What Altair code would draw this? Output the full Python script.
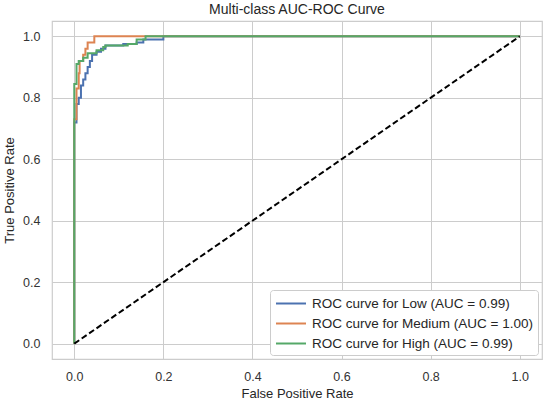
import altair as alt
import pandas as pd

labels = ["ROC curve for Low (AUC = 0.99)",
          "ROC curve for Medium (AUC = 1.00)",
          "ROC curve for High (AUC = 0.99)"]
colors = ["#4c72b0", "#dd8452", "#55a868"]

low_fpr = [0, 0, 0.005, 0.005, 0.01, 0.01, 0.015, 0.015, 0.02, 0.02, 0.025, 0.025, 0.03, 0.03,
           0.035, 0.035, 0.04, 0.04, 0.05, 0.05, 0.06, 0.06, 0.07, 0.07, 0.11, 0.11, 0.14, 0.14,
           0.155, 0.155, 0.2, 0.2, 1.0]
low_tpr = [0, 0.72, 0.72, 0.78, 0.78, 0.80, 0.80, 0.84, 0.84, 0.86, 0.86, 0.88, 0.88, 0.90,
           0.90, 0.92, 0.92, 0.94, 0.94, 0.95, 0.95, 0.96, 0.96, 0.97, 0.97, 0.975, 0.975, 0.98,
           0.98, 0.99, 0.99, 1.0, 1.0]

med_fpr = [0, 0, 0.005, 0.005, 0.01, 0.01, 0.012, 0.012, 0.02, 0.02, 0.025, 0.025, 0.03, 0.03,
           0.045, 0.045, 1.0]
med_tpr = [0, 0.73, 0.73, 0.83, 0.83, 0.88, 0.88, 0.92, 0.92, 0.94, 0.94, 0.96, 0.96, 0.98,
           0.98, 1.0, 1.0]

high_fpr = [0, 0, 0.005, 0.005, 0.01, 0.01, 0.02, 0.02, 0.03, 0.03, 0.05, 0.05, 0.065, 0.065,
            0.07, 0.07, 0.12, 0.12, 0.14, 0.14, 0.16, 0.16, 1.0]
high_tpr = [0, 0.845, 0.845, 0.91, 0.91, 0.92, 0.92, 0.93, 0.93, 0.945, 0.945, 0.955, 0.955, 0.965,
            0.965, 0.97, 0.97, 0.975, 0.975, 0.99, 0.99, 1.0, 1.0]

diag_x = [0.0, 1.0]
diag_y = [0.0, 1.0]
ticks = [0.0, 0.2, 0.4, 0.6, 0.8, 1.0]

rows = []
for lab, fx, ty in zip(labels, [low_fpr, med_fpr, high_fpr], [low_tpr, med_tpr, high_tpr]):
    for i, (a, b) in enumerate(zip(fx, ty)):
        rows.append({"series": lab, "fpr": a, "tpr": b, "idx": i})
df = pd.DataFrame(rows)
diag = pd.DataFrame({"fpr": diag_x, "tpr": diag_y})

xs = alt.Scale(domain=[-0.05, 1.05], nice=False, zero=False)
ys = alt.Scale(domain=[-0.05, 1.05], nice=False, zero=False)

xax = alt.Axis(values=ticks, format=".1f", title="False Positive Rate", labelPadding=11)
yax = alt.Axis(values=ticks, format=".1f", title="True Positive Rate", labelPadding=12,
               titlePadding=6)

lines = alt.Chart(df).mark_line(strokeWidth=2).encode(
    x=alt.X("fpr:Q", scale=xs, axis=xax),
    y=alt.Y("tpr:Q", scale=ys, axis=yax),
    color=alt.Color("series:N", scale=alt.Scale(domain=labels, range=colors),
                    legend=alt.Legend(title=None, orient="bottom-right", offset=4,
                                      symbolType="M-1,0H3", symbolSize=225, symbolStrokeWidth=2,
                                      labelFontSize=13.5, labelColor="#262626",
                                      labelOffset=20,
                                      fillColor="white", strokeColor="#cccccc",
                                      cornerRadius=3, padding=5, rowPadding=5,
                                      labelLimit=400)),
    order="idx:Q",
)

dline = alt.Chart(diag).mark_line(color="black", strokeWidth=2, strokeDash=[6, 3]).encode(
    x=alt.X("fpr:Q", scale=xs),
    y=alt.Y("tpr:Q", scale=ys),
)

chart = alt.layer(lines, dline).properties(
    width=490, height=338,
    title=alt.TitleParams("Multi-class AUC-ROC Curve", fontSize=14, font="Liberation Sans",
                          fontWeight="normal", color="#262626", offset=4),
    padding={"left": 52, "top": 21, "right": 5, "bottom": 43},
    autosize="none",
).configure_view(stroke="#cccccc", strokeWidth=1.2).configure_axis(
    grid=True, gridColor="#cccccc", gridWidth=1, domain=False, ticks=False,
    labelFont="Liberation Sans", labelFontSize=12.5, labelColor="#333333",
    titleFont="Liberation Sans", titleFontSize=13, titleFontWeight="normal", titleColor="#262626",
    titlePadding=5,
).configure_legend(labelFont="Liberation Sans")

chart.save("out.html", embed_options={"renderer": "svg", "actions": False})
